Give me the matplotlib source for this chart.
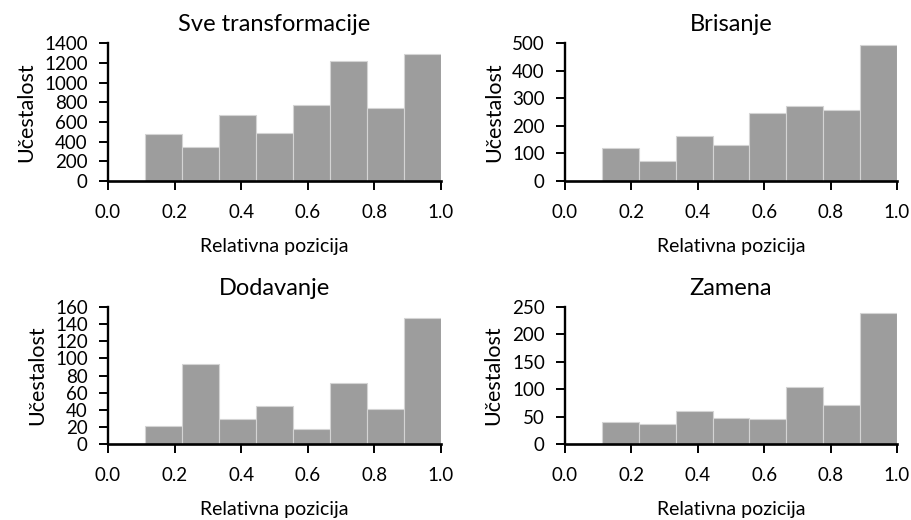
import matplotlib
matplotlib.use("Agg")
import matplotlib.pyplot as plt
import numpy as np

plt.rcParams['font.family'] = ['Lato', 'DejaVu Sans']

# relative position bins: 9 equal bins over [0, 1]
edges = np.linspace(0, 1, 10)

titles = ["Sve transformacije", "Brisanje", "Dodavanje", "Zamena"]
sve = [0, 474, 346, 671, 488, 773, 1214, 746, 1292]
brisanje = [0, 119, 73, 163, 129, 248, 273, 257, 494]
dodavanje = [0, 21, 94, 29, 44, 18, 71, 41, 147]
zamena = [0, 40, 37, 60, 47, 45, 104, 71, 239]
counts = [sve, brisanje, dodavanje, zamena]
ylims = [1400, 500, 160, 250]
ysteps = [200, 100, 20, 50]

fig = plt.figure(figsize=(9.12, 5.2), dpi=100)
boxes = [
    [0.1184, 0.652, 0.3652, 0.265],
    [0.6195, 0.652, 0.3641, 0.265],
    [0.1184, 0.146, 0.3652, 0.2636],
    [0.6195, 0.146, 0.3641, 0.2636],
]

centers = (edges[:-1] + edges[1:]) / 2
for box, title, c, ym, st in zip(boxes, titles, counts, ylims, ysteps):
    ax = fig.add_axes(box)
    ax.hist(centers, bins=edges, weights=c, color='#9d9d9d',
            edgecolor='#d4d4d4', linewidth=0.8)
    ax.set_xlim(0, 1)
    ax.set_ylim(0, ym)
    ax.set_xticks(np.arange(0, 1.01, 0.2))
    ax.set_yticks(np.arange(0, ym + 1, st))
    ax.spines['top'].set_visible(False)
    ax.spines['right'].set_visible(False)
    ax.spines['left'].set_linewidth(1.7)
    ax.spines['bottom'].set_linewidth(1.9)
    ax.tick_params(direction='out', length=6.5, width=1.4, labelsize=13.5)
    ax.tick_params(axis='x', pad=10)
    ax.tick_params(axis='y', pad=8)
    ax.set_title(title, fontsize=17, pad=9)
    ax.set_xlabel("Relativna pozicija", fontsize=14, labelpad=12)
    ax.set_ylabel("Učestalost", fontsize=15.5, labelpad=6)

fig.savefig("out.png", dpi=100)
